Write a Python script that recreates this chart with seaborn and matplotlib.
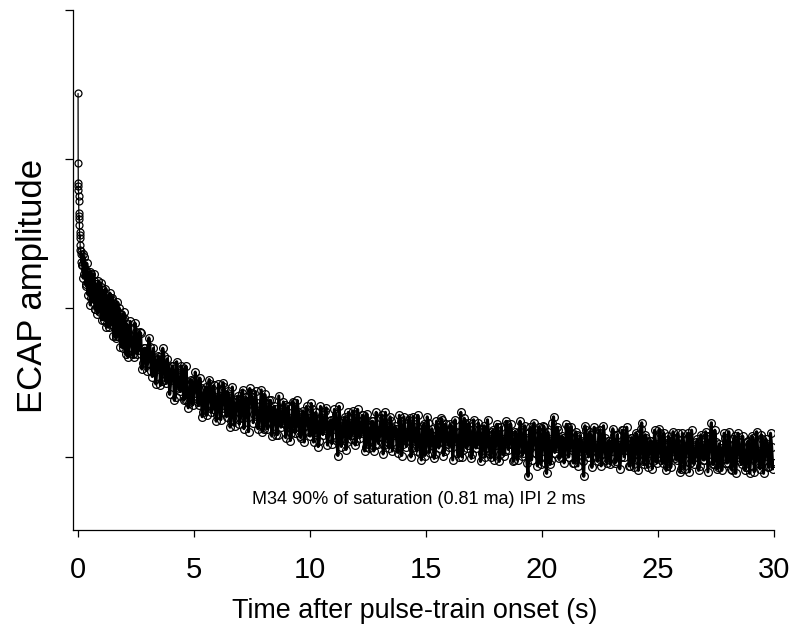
import matplotlib
matplotlib.use("Agg")
import matplotlib.pyplot as plt
import seaborn as sns
import pandas as pd

# ECAP amplitude (uV) during a 30 s pulse train, IPI 2 ms
onset_time = [0.000, 0.004, 0.008, 0.012, 0.016, 0.020, 0.026, 0.032, 0.040, 0.048,
              0.056, 0.064, 0.072, 0.080, 0.090, 0.100, 0.115, 0.130, 0.145, 0.160]
onset_amp = [344, 297, 284, 279, 282, 275, 272, 264, 260, 262,
             256, 251, 247, 249, 242, 239, 236, 231, 238, 229]

early_time = [0.20, 0.25, 0.30, 0.35, 0.40, 0.45, 0.50, 0.55, 0.60, 0.65,
              0.70, 0.75, 0.80, 0.85, 0.90, 0.95, 1.00, 1.05, 1.10, 1.15,
              1.20, 1.25, 1.30, 1.35, 1.40, 1.45, 1.50, 1.55, 1.60, 1.65,
              1.70, 1.75, 1.80, 1.85, 1.90, 1.95, 2.00]
early_amp = [236, 223, 226, 215, 224, 216, 224, 207, 216, 207,
             218, 199, 209, 204, 211, 197, 214, 197, 206, 199,
             206, 190, 201, 193, 206, 193, 195, 187, 200, 181,
             193, 188, 196, 181, 190, 180, 193]

early_time_b = [0.225, 0.275, 0.325, 0.375, 0.425, 0.475, 0.525, 0.575, 0.625, 0.675,
                0.725, 0.775, 0.825, 0.875, 0.925, 0.975, 1.025, 1.075, 1.125, 1.175,
                1.225, 1.275, 1.325, 1.375, 1.425, 1.475, 1.525, 1.575, 1.625, 1.675,
                1.725, 1.775, 1.825, 1.875, 1.925, 1.975]
early_amp_b = [220, 234, 216, 230, 209, 222, 202, 223, 204, 223,
               199, 216, 196, 218, 200, 217, 192, 212, 192, 213,
               187, 207, 187, 210, 189, 207, 181, 203, 180, 204,
               181, 200, 174, 194, 173, 197]

late_time = [
    2.1, 2.2, 2.3, 2.4, 2.5, 2.6, 2.7, 2.8, 2.9, 3.0,
    3.1, 3.2, 3.3, 3.4, 3.5, 3.6, 3.7, 3.8, 3.9, 4.0,
    4.1, 4.2, 4.3, 4.4, 4.5, 4.6, 4.7, 4.8, 4.9, 5.0,
    5.1, 5.2, 5.3, 5.4, 5.5, 5.6, 5.7, 5.8, 5.9, 6.0,
    6.1, 6.2, 6.3, 6.4, 6.5, 6.6, 6.7, 6.8, 6.9, 7.0,
    7.1, 7.2, 7.3, 7.4, 7.5, 7.6, 7.7, 7.8, 7.9, 8.0,
    8.1, 8.2, 8.3, 8.4, 8.5, 8.6, 8.7, 8.8, 8.9, 9.0,
    9.1, 9.2, 9.3, 9.4, 9.5, 9.6, 9.7, 9.8, 9.9, 10.0,
    10.1, 10.2, 10.3, 10.4, 10.5, 10.6, 10.7, 10.8, 10.9, 11.0,
    11.1, 11.2, 11.3, 11.4, 11.5, 11.6, 11.7, 11.8, 11.9, 12.0,
    12.1, 12.2, 12.3, 12.4, 12.5, 12.6, 12.7, 12.8, 12.9, 13.0,
    13.1, 13.2, 13.3, 13.4, 13.5, 13.6, 13.7, 13.8, 13.9, 14.0,
    14.1, 14.2, 14.3, 14.4, 14.5, 14.6, 14.7, 14.8, 14.9, 15.0,
    15.1, 15.2, 15.3, 15.4, 15.5, 15.6, 15.7, 15.8, 15.9, 16.0,
    16.1, 16.2, 16.3, 16.4, 16.5, 16.6, 16.7, 16.8, 16.9, 17.0,
    17.1, 17.2, 17.3, 17.4, 17.5, 17.6, 17.7, 17.8, 17.9, 18.0,
    18.1, 18.2, 18.3, 18.4, 18.5, 18.6, 18.7, 18.8, 18.9, 19.0,
    19.1, 19.2, 19.3, 19.4, 19.5, 19.6, 19.7, 19.8, 19.9, 20.0,
    20.1, 20.2, 20.3, 20.4, 20.5, 20.6, 20.7, 20.8, 20.9, 21.0,
    21.1, 21.2, 21.3, 21.4, 21.5, 21.6, 21.7, 21.8, 21.9, 22.0,
    22.1, 22.2, 22.3, 22.4, 22.5, 22.6, 22.7, 22.8, 22.9, 23.0,
    23.1, 23.2, 23.3, 23.4, 23.5, 23.6, 23.7, 23.8, 23.9, 24.0,
    24.1, 24.2, 24.3, 24.4, 24.5, 24.6, 24.7, 24.8, 24.9, 25.0,
    25.1, 25.2, 25.3, 25.4, 25.5, 25.6, 25.7, 25.8, 25.9, 26.0,
    26.1, 26.2, 26.3, 26.4, 26.5, 26.6, 26.7, 26.8, 26.9, 27.0,
    27.1, 27.2, 27.3, 27.4, 27.5, 27.6, 27.7, 27.8, 27.9, 28.0,
    28.1, 28.2, 28.3, 28.4, 28.5, 28.6, 28.7, 28.8, 28.9, 29.0,
    29.1, 29.2, 29.3, 29.4, 29.5, 29.6, 29.7, 29.8, 29.9, 30.0,
]
late_amp = [
    189, 174, 181, 167, 184, 172, 183, 163, 173, 163,
    174, 154, 165, 159, 167, 151, 168, 150, 160, 152,
    161, 140, 154, 144, 159, 139, 148, 136, 151, 143,
    152, 135, 146, 130, 147, 136, 149, 132, 140, 128,
    141, 133, 147, 127, 141, 124, 137, 131, 141, 126,
    145, 127, 135, 146, 140, 129, 136, 122, 145, 119,
    136, 124, 138, 121, 132, 115, 130, 123, 135, 120,
    126, 116, 136, 120, 130, 113, 131, 121, 126, 114,
    132, 117, 124, 111, 128, 118, 133, 114, 125, 119,
    129, 101, 123, 113, 127, 110, 123, 115, 129, 111,
    124, 116, 128, 107, 120, 112, 124, 108, 118, 114,
    128, 108, 121, 106, 124, 115, 119, 103, 124, 109,
    117, 111, 126, 106, 120, 104, 117, 98, 122, 106,
    123, 108, 114, 102, 120, 110, 125, 104, 117, 107,
    121, 111, 117, 100, 130, 105, 123, 108, 118, 102,
    114, 109, 119, 103, 121, 106, 115, 100, 118, 108,
    120, 102, 112, 104, 122, 109, 115, 98, 116, 106,
    118, 103, 113, 87, 120, 108, 114, 94, 117, 104,
    120, 89, 111, 98, 127, 106, 118, 100, 113, 102,
    120, 107, 113, 96, 115, 104, 111, 87, 118, 100,
    115, 105, 108, 97, 118, 102, 113, 96, 111, 104,
    115, 97, 108, 100, 118, 105, 111, 94, 113, 102,
    115, 98, 123, 95, 113, 103, 111, 97, 109, 100,
    116, 96, 107, 94, 111, 101, 113, 98, 109, 92,
    111, 103, 116, 96, 107, 100, 112, 94, 108, 98,
    114, 102, 123, 95, 110, 93, 106, 99, 113, 96,
    108, 91, 114, 100, 110, 95, 106, 93, 111, 99,
    113, 97, 104, 92, 112, 101, 109, 94, 107, 96,
]

# responses between the sampled pulses above
late_time_b = [
    2.05, 2.15, 2.25, 2.35, 2.45, 2.55, 2.65, 2.75, 2.85, 2.95,
    3.05, 3.15, 3.25, 3.35, 3.45, 3.55, 3.65, 3.75, 3.85, 3.95,
    4.05, 4.15, 4.25, 4.35, 4.45, 4.55, 4.65, 4.75, 4.85, 4.95,
    5.05, 5.15, 5.25, 5.35, 5.45, 5.55, 5.65, 5.75, 5.85, 5.95,
    6.05, 6.15, 6.25, 6.35, 6.45, 6.55, 6.65, 6.75, 6.85, 6.95,
    7.05, 7.15, 7.25, 7.35, 7.45, 7.55, 7.65, 7.75, 7.85, 7.95,
    8.05, 8.15, 8.25, 8.35, 8.45, 8.55, 8.65, 8.75, 8.85, 8.95,
    9.05, 9.15, 9.25, 9.35, 9.45, 9.55, 9.65, 9.75, 9.85, 9.95,
    10.05, 10.15, 10.25, 10.35, 10.45, 10.55, 10.65, 10.75, 10.85, 10.95,
    11.05, 11.15, 11.25, 11.35, 11.45, 11.55, 11.65, 11.75, 11.85, 11.95,
    12.05, 12.15, 12.25, 12.35, 12.45, 12.55, 12.65, 12.75, 12.85, 12.95,
    13.05, 13.15, 13.25, 13.35, 13.45, 13.55, 13.65, 13.75, 13.85, 13.95,
    14.05, 14.15, 14.25, 14.35, 14.45, 14.55, 14.65, 14.75, 14.85, 14.95,
    15.05, 15.15, 15.25, 15.35, 15.45, 15.55, 15.65, 15.75, 15.85, 15.95,
    16.05, 16.15, 16.25, 16.35, 16.45, 16.55, 16.65, 16.75, 16.85, 16.95,
    17.05, 17.15, 17.25, 17.35, 17.45, 17.55, 17.65, 17.75, 17.85, 17.95,
    18.05, 18.15, 18.25, 18.35, 18.45, 18.55, 18.65, 18.75, 18.85, 18.95,
    19.05, 19.15, 19.25, 19.35, 19.45, 19.55, 19.65, 19.75, 19.85, 19.95,
    20.05, 20.15, 20.25, 20.35, 20.45, 20.55, 20.65, 20.75, 20.85, 20.95,
    21.05, 21.15, 21.25, 21.35, 21.45, 21.55, 21.65, 21.75, 21.85, 21.95,
    22.05, 22.15, 22.25, 22.35, 22.45, 22.55, 22.65, 22.75, 22.85, 22.95,
    23.05, 23.15, 23.25, 23.35, 23.45, 23.55, 23.65, 23.75, 23.85, 23.95,
    24.05, 24.15, 24.25, 24.35, 24.45, 24.55, 24.65, 24.75, 24.85, 24.95,
    25.05, 25.15, 25.25, 25.35, 25.45, 25.55, 25.65, 25.75, 25.85, 25.95,
    26.05, 26.15, 26.25, 26.35, 26.45, 26.55, 26.65, 26.75, 26.85, 26.95,
    27.05, 27.15, 27.25, 27.35, 27.45, 27.55, 27.65, 27.75, 27.85, 27.95,
    28.05, 28.15, 28.25, 28.35, 28.45, 28.55, 28.65, 28.75, 28.85, 28.95,
    29.05, 29.15, 29.25, 29.35, 29.45, 29.55, 29.65, 29.75, 29.85, 29.95,
]
late_amp_b = [
    169, 167, 191, 169, 190, 169, 184, 159, 173, 158,
    180, 158, 173, 149, 168, 148, 173, 152, 166, 142,
    161, 138, 164, 146, 161, 138, 161, 133, 152, 135,
    157, 137, 153, 127, 145, 128, 152, 130, 148, 124,
    149, 125, 150, 130, 144, 120, 147, 121, 139, 122,
    143, 119, 140, 117, 143, 123, 144, 119, 134, 117,
    142, 119, 138, 114, 134, 115, 141, 120, 137, 113,
    134, 111, 137, 116, 138, 114, 129, 110, 134, 117,
    136, 110, 130, 107, 134, 115, 131, 108, 124, 109,
    132, 111, 134, 107, 125, 105, 130, 112, 131, 108,
    132, 113, 128, 104, 129, 106, 124, 104, 130, 109,
    126, 102, 130, 110, 127, 104, 121, 106, 128, 101,
    127, 107, 125, 100, 127, 109, 128, 103, 121, 101,
    127, 103, 119, 99, 124, 106, 126, 101, 122, 109,
    122, 98, 125, 103, 117, 100, 126, 106, 123, 99,
    125, 106, 123, 97, 119, 100, 125, 102, 117, 98,
    122, 97, 120, 101, 124, 105, 122, 97, 117, 98,
    124, 101, 121, 96, 116, 98, 123, 103, 120, 95,
    121, 96, 117, 95, 123, 103, 120, 99, 114, 96,
    122, 100, 120, 96, 117, 94, 114, 97, 121, 103,
    117, 93, 120, 100, 118, 94, 121, 98, 111, 95,
    119, 96, 115, 92, 118, 100, 120, 94, 113, 93,
    116, 91, 119, 97, 115, 93, 111, 92, 118, 96,
    119, 98, 116, 91, 114, 93, 117, 99, 116, 90,
    116, 92, 112, 90, 118, 95, 110, 91, 115, 98,
    117, 90, 114, 95, 118, 92, 109, 91, 116, 96,
    117, 92, 112, 89, 116, 97, 114, 91, 110, 89,
    114, 90, 117, 95, 115, 89, 112, 93, 116, 92,
]

x_ticks = [0, 5, 10, 15, 20, 25, 30]
y_ticks = [100, 200, 300, 400]
note = "M34 90% of saturation (0.81 ma) IPI 2 ms"

onset = pd.DataFrame({"time": onset_time, "amp": onset_amp})
train = pd.DataFrame({
    "time": onset_time[-1:] + early_time + early_time_b + late_time + late_time_b,
    "amp": onset_amp[-1:] + early_amp + early_amp_b + late_amp + late_amp_b,
}).sort_values("time")

sns.set_style("ticks")
plt.rcParams["font.family"] = ["Liberation Sans", "DejaVu Sans"]
for key in ("text.color", "axes.labelcolor", "xtick.color", "ytick.color",
            "axes.edgecolor"):
    plt.rcParams[key] = "black"

fig = plt.figure(figsize=(7.94, 6.33), dpi=100)
ax = fig.add_axes([0.0919, 0.1627, 0.8829, 0.8215])

marker_style = dict(marker="o", markerfacecolor="none",
                    markeredgecolor="black", markeredgewidth=0.9)

# sparse first responses: thin connecting line
sns.lineplot(data=onset, x="time", y="amp", ax=ax, sort=False, estimator=None,
             color="black", linewidth=0.9, markersize=5.0, **marker_style)
# rest of the train: overlapping trace forms a dense band
sns.lineplot(data=train, x="time", y="amp", ax=ax, sort=False, estimator=None,
             color="black", linewidth=2.2, markersize=5.6, **marker_style)

ax.set_xlim(-0.22, 30)
ax.set_ylim(51, 400)
ax.set_xticks(x_ticks)
ax.set_xticklabels([str(v) for v in x_ticks])
ax.set_yticks(y_ticks)
ax.set_yticklabels([])

for side in ("top", "right"):
    ax.spines[side].set_visible(False)
for side in ("left", "bottom"):
    ax.spines[side].set_linewidth(0.9)
    ax.spines[side].set_color("black")

ax.tick_params(axis="x", direction="out", length=5, width=0.9,
               labelsize=21, pad=14, colors="black")
ax.tick_params(axis="y", direction="out", length=6, width=0.9, colors="black")

ax.set_xlabel("Time after pulse-train onset (s)", fontsize=19.4, labelpad=10,
              x=0.488)
ax.set_ylabel("ECAP amplitude", fontsize=25, labelpad=8, y=0.47)

ax.text(0.493, 0.05, note, transform=ax.transAxes, ha="center",
        va="baseline", fontsize=13, color="black")

fig.savefig("out.png", dpi=100)
